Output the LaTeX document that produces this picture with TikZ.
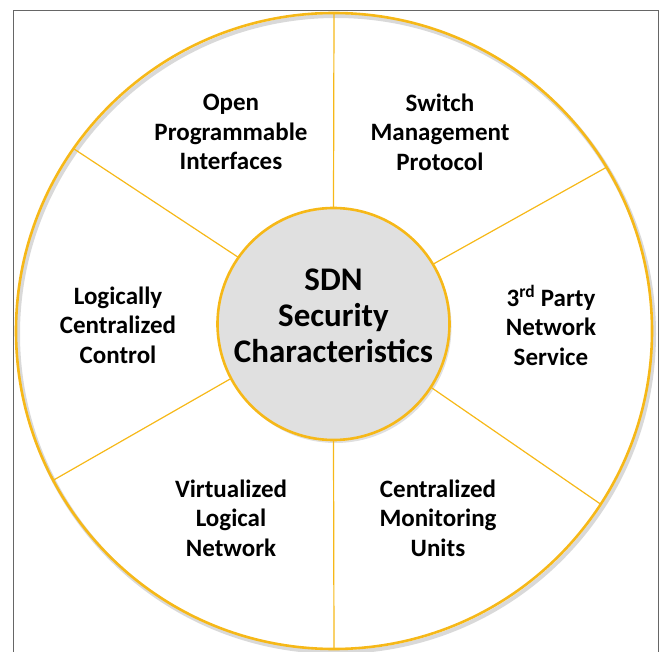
\documentclass[tikz,border=0pt]{standalone}
\usepackage{fontspec}
\setmainfont{Carlito}
\usetikzlibrary{shadows}
\definecolor{sdngold}{RGB}{246,184,24}

\begin{document}
\begin{tikzpicture}[x=1pt, y=-1pt,
    block_rim/.style ={circle, draw=sdngold, line width=2.6pt, fill=none,
      minimum size=636pt, inner sep=0pt, outer sep=0pt},
    block_hub/.style ={circle, draw=sdngold, line width=2.6pt, fill=black!12,
      minimum size=232pt, inner sep=0pt, outer sep=0pt,
      drop shadow={opacity=0.25, shadow xshift=2pt, shadow yshift=-3pt}},
    block_label/.style ={font=\bfseries\fontsize{25}{29.5}\selectfont, align=center, inner sep=0pt},
    block_title/.style ={font=\bfseries\fontsize{33}{36}\selectfont, align=center, inner sep=0pt},
    spoke/.style ={draw=sdngold, line width=1.2pt}]
    \useasboundingbox (0,0) rectangle (659,652);
    % frame
    \draw [black!60, line width=1pt] (13.5,660) |- (658.5,10.5) -- (658.5,660);
    % wheel
    \draw [black!15, line width=4pt] (336,334) circle [radius=318pt];
    \node [block_rim] (rim) at (334,331) {};
    \node [block_hub] (hub) at (333.5,324) {};
    \node [block_title] (title) at (333.5,316) {SDN\\ Security\\ Characteristics};
    % sectors
    \node [block_label] (open)    at (231,132) {Open\\ Programmable\\ Interfaces};
    \node [block_label] (switch)  at (440,132) {Switch\\ Management\\ Protocol};
    \node [block_label] (logical) at (118,325) {Logically\\ Centralized\\ Control};
    \node [block_label] (party)   at (551,325) {3\textsuperscript{rd} Party\\ Network\\ Service};
    \node [block_label] (virtual) at (231,518) {Virtualized\\ Logical\\ Network};
    \node [block_label] (monitor) at (438,518) {Centralized\\ Monitoring\\ Units};
    % spokes
    \begin{scope}[every path/.style=spoke]
      \path (hub.90)  -- (rim.90);
      \path (hub.31)  -- (rim.31);
      \path (hub.-33) -- (rim.-33);
      \path (hub.-90) -- (rim.-90);
      \path (hub.208) -- (rim.208);
      \path (hub.145) -- (rim.145);
    \end{scope}
  \end{tikzpicture}
\end{document}
